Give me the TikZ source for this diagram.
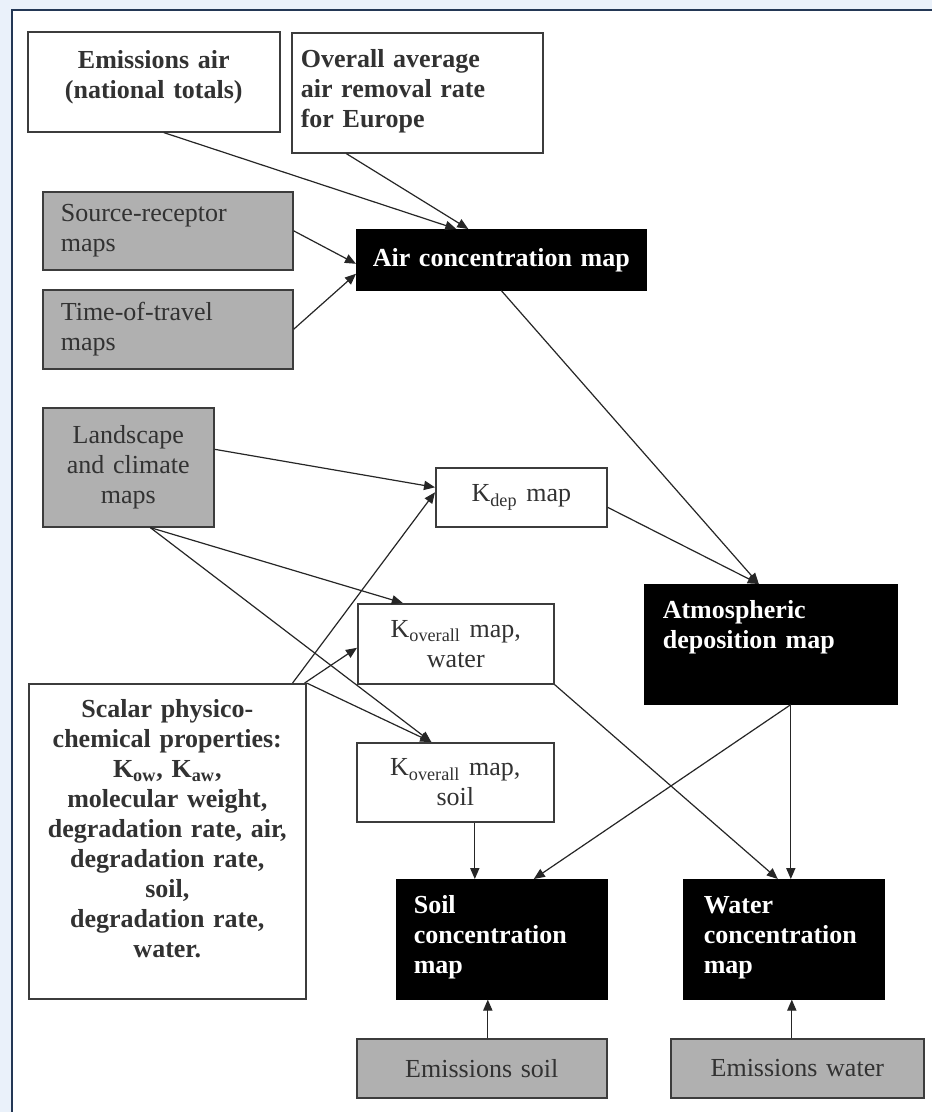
\documentclass[tikz,border=0pt]{standalone}
\usepackage{fontspec}
\setmainfont{Liberation Serif}
\usepackage{tikz}
\usetikzlibrary{arrows.meta,calc}
\definecolor{bgblue}{RGB}{234,241,250}
\definecolor{framecol}{RGB}{35,55,85}
\definecolor{boxline}{RGB}{60,60,60}
\definecolor{boxgray}{RGB}{176,176,176}
\definecolor{txtgray}{RGB}{50,50,50}
\tikzset{
	whitenode/.style={rectangle, anchor=north west, draw=boxline, fill=white, line width=0.8pt, inner sep=0pt, text=txtgray, font=\fontsize{13}{15}\selectfont},
	headnode/.style={whitenode, font=\fontsize{13}{15}\selectfont\bfseries},
	graynode/.style={whitenode, fill=boxgray},
	blacknode/.style={whitenode, draw=black, fill=black, text=white, font=\fontsize{13}{15}\selectfont\bfseries},
	link/.style={-{Triangle[length=5.5pt,width=4.6pt]}, line width=0.6pt, draw=black!85}
}
\begin{document}
\begin{tikzpicture}[x=0.5pt, y=-0.5pt]
	\useasboundingbox (0,0) rectangle (932,1112);
	\fill[bgblue] (0,0) rectangle (932,1112);
	\fill[white] (12,10) rectangle (932,1112);
	\draw[framecol, line width=1pt] (12,1112) -- (12,10) -- (932,10);

	\node[headnode, text width=126pt, align=center, text height=18.5pt, text depth=31.5pt] at (27,31) (emair) {Emissions air\\(national totals)};
	\node[headnode, text width=116.5pt, inner xsep=4.5pt, align=left, text height=17.5pt, text depth=42.5pt] at (291,32) (avgrate) {Overall average\\air removal rate\\for Europe};
	\node[graynode, text width=107pt, inner xsep=9pt, align=left, minimum height=39pt] at (42,191) (srcmaps) {Source-receptor\\maps};
	\node[graynode, text width=107pt, inner xsep=9pt, align=left, minimum height=39.5pt] at (42,289) (timemaps) {Time-of-travel\\maps};
	\node[blacknode, text width=144.5pt, align=center, minimum height=30pt] at (356,229) (airconc) {Air concentration map};
	\node[graynode, text width=85.5pt, align=center, minimum height=59.5pt] at (42,407) (landmaps) {Landscape\\and climate\\maps};
	\node[whitenode, text width=85.5pt, align=center, minimum height=29.5pt] at (435,467) (kdep) {K\textsubscript{dep} map};
	\node[blacknode, text width=108pt, inner xsep=9pt, align=left, text height=17pt, text depth=42.5pt] at (644,584) (atmos) {Atmospheric\\deposition map};
	\node[whitenode, text width=98pt, align=center, minimum height=40pt] at (357,603) (kwater) {K\textsubscript{overall} map,\\water};
	\node[headnode, text width=138.5pt, align=center, text height=17pt, text depth=140.5pt] at (28,683) (scalar) {Scalar physico-\\chemical properties:\\K\textsubscript{ow}, K\textsubscript{aw},\\molecular weight,\\degradation rate, air,\\degradation rate,\\soil,\\degradation rate,\\water.};
	\node[whitenode, text width=98.5pt, align=center, minimum height=39.5pt] at (356,742) (ksoil) {K\textsubscript{overall} map,\\soil};
	\node[blacknode, text width=88pt, inner xsep=8.5pt, align=left, text height=17pt, text depth=42.5pt] at (396,879) (soilconc) {Soil\\concentration\\map};
	\node[blacknode, text width=80pt, inner xsep=10pt, align=left, text height=17pt, text depth=42.5pt] at (683,879) (waterconc) {Water\\concentration\\map};
	\node[graynode, text width=125pt, align=center, minimum height=29.5pt] at (356,1038) (emsoil) {Emissions soil};
	\node[graynode, text width=126.5pt, align=center, minimum height=29.5pt] at (670,1038) (emwater) {Emissions water};

	\draw[link] ($(emair.south)+(10,0)$) -- ($(airconc.north)+(-45,0)$);
	\draw[link] ($(avgrate.south)+(-71,0)$) -- ($(airconc.north)+(-33,0)$);
	\draw[link] (srcmaps.east) -- ($(airconc.west)+(0,4)$);
	\draw[link] (timemaps.east) -- ($(airconc.west)+(0,14)$);
	\draw[link] (airconc.south) -- ($(atmos.north)+(-12,0)$);
	\draw[link] ($(landmaps.east)+(0,-18)$) -- ($(kdep.west)+(0,-10)$);
	\draw[link] ($(scalar.north east)+(-14,0)$) -- ($(kdep.west)+(0,-5)$);
	\draw[link] ($(landmaps.south)+(22,0)$) -- ($(kwater.north)+(-53,0)$);
	\draw[link] ($(landmaps.south)+(22,0)$) -- ($(ksoil.north)+(-24,0)$);
	\draw[link] ($(scalar.north east)+(-2,0)$) -- ($(kwater.west)+(0,4)$);
	\draw[link] (scalar.north east) -- ($(ksoil.north)+(-24,0)$);
	\draw[link] ($(kdep.east)+(0,10)$) -- ($(atmos.north)+(-12,0)$);
	\draw[link] (kwater.south east) -- ($(waterconc.north)+(-6,0)$);
	\draw[link] ($(atmos.south)+(20,0)$) -- ($(soilconc.north)+(32,0)$);
	\draw[link] ($(atmos.south)+(20,0)$) -- ($(waterconc.north)+(7,0)$);
	\draw[link] ($(ksoil.south)+(19.5,0)$) -- ($(soilconc.north)+(-27,0)$);
	\draw[link] ($(emsoil.north)+(6,0)$) -- ($(soilconc.south)+(-14,0)$);
	\draw[link] ($(emwater.north)+(-5.5,0)$) -- ($(waterconc.south)+(8,0)$);
\end{tikzpicture}
\end{document}
